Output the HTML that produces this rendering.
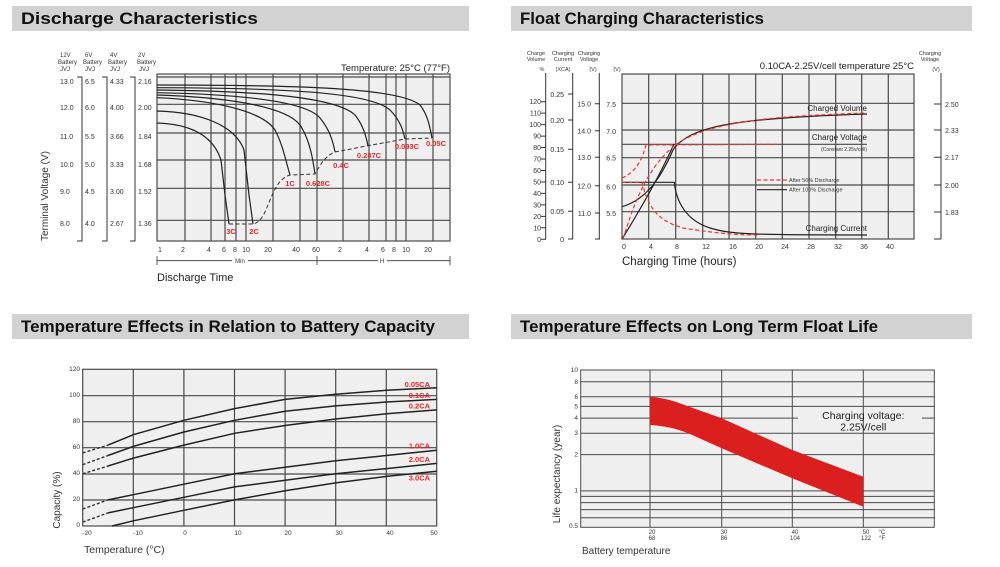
<!DOCTYPE html>
<html><head><meta charset="utf-8"><style>
html,body{margin:0;padding:0;background:#fff;}
svg{display:block;font-family:"Liberation Sans",Arial,sans-serif;}
.t{font-size:7px;fill:#333}
.g{stroke:#4a4a4a;stroke-width:1.2;fill:none}
.c{stroke:#222;stroke-width:1.2;fill:none}
.r{stroke:#e8352f;stroke-width:1.2;fill:none;stroke-dasharray:4 2.5}
.d{stroke:#333;stroke-width:1;fill:none;stroke-dasharray:4 2.5}
.lab{font-size:7.5px;font-weight:bold;fill:#e8252a}
.h{font-size:17px;font-weight:bold;fill:#111}
</style></head><body>
<svg width="1000" height="567" viewBox="0 0 1000 567">
<!-- headers -->
<rect x="12" y="6" width="457" height="25" fill="#d2d2d3"/>
<rect x="511" y="6" width="461" height="25" fill="#d2d2d3"/>
<rect x="12" y="314" width="457" height="25" fill="#d2d2d3"/>
<rect x="511" y="314" width="461" height="25" fill="#d2d2d3"/>
<text class="h" x="21" y="24" textLength="237" lengthAdjust="spacingAndGlyphs">Discharge Characteristics</text>
<text class="h" x="520" y="24" textLength="244" lengthAdjust="spacingAndGlyphs">Float Charging Characteristics</text>
<text class="h" x="21" y="332" textLength="414" lengthAdjust="spacingAndGlyphs">Temperature Effects in Relation to Battery Capacity</text>
<text class="h" x="520" y="332" textLength="358" lengthAdjust="spacingAndGlyphs">Temperature Effects on Long Term Float Life</text>

<!-- ===== Chart 1 ===== -->
<rect x="157" y="74" width="293" height="167" fill="#efefef"/>
<g class="g">
<line x1="157" y1="77" x2="450" y2="77"/><line x1="157" y1="104.3" x2="450" y2="104.3"/><line x1="157" y1="133" x2="450" y2="133"/><line x1="157" y1="160" x2="450" y2="160"/><line x1="157" y1="188.3" x2="450" y2="188.3"/><line x1="157" y1="220.3" x2="450" y2="220.3"/>
<line x1="185" y1="74" x2="185" y2="241"/><line x1="211" y1="74" x2="211" y2="241"/><line x1="225" y1="74" x2="225" y2="241"/><line x1="236" y1="74" x2="236" y2="241"/><line x1="246" y1="74" x2="246" y2="241"/><line x1="273" y1="74" x2="273" y2="241"/><line x1="300" y1="74" x2="300" y2="241"/><line x1="317" y1="74" x2="317" y2="241"/><line x1="343" y1="74" x2="343" y2="241"/><line x1="369" y1="74" x2="369" y2="241"/><line x1="386" y1="74" x2="386" y2="241"/><line x1="396" y1="74" x2="396" y2="241"/><line x1="406" y1="74" x2="406" y2="241"/><line x1="433" y1="74" x2="433" y2="241"/>
<rect x="157" y="74" width="293" height="167"/>
</g>
<g class="c">
<path d="M157,85 C300,85 400,88 420,105 C428,115 430,128 432,138"/>
<path d="M157,87.7 C280,88 370,92 390,110 C400,120 403,130 405,139"/>
<path d="M157,90 C250,91 335,96 355,115 C363,125 366,136 368,145.7"/>
<path d="M157,92.7 C230,94 305,100 320,118 C330,130 333,142 335,151.7"/>
<path d="M157,95 C220,97 285,105 300,125 C310,140 313,160 315,174"/>
<path d="M157,97.7 C210,100 262,110 275,130 C283,145 286,162 290,175"/>
<path d="M157,111 C200,112 235,125 244,150 L249,195 L253,224"/>
<path d="M157,123 C190,124 213,135 221,160 L225,195 L229,224"/>
</g>
<path class="d" d="M229,224 L253,224 C262,222 265,212 270,200 C275,188 280,178 290,175 L315,174 C320,165 325,156 335,152 L368,145.7 L405,139 L432,138"/>
<g class="lab" text-anchor="middle">
<text x="231" y="234">3C</text><text x="254" y="234">2C</text><text x="290" y="186">1C</text><text x="318" y="186">0.628C</text><text x="341" y="168">0.4C</text><text x="369" y="158">0.207C</text><text x="407" y="149">0.093C</text><text x="436" y="146">0.05C</text>
</g>
<g class="t" style="font-size:6px">
<text x="60" y="57">12V</text><text x="58" y="64">Battery</text><text x="60" y="71">JVJ</text>
<text x="85" y="57">6V</text><text x="83" y="64">Battery</text><text x="85" y="71">JVJ</text>
<text x="110" y="57">4V</text><text x="108" y="64">Battery</text><text x="110" y="71">JVJ</text>
<text x="138" y="57">2V</text><text x="137" y="64">Battery</text><text x="139" y="71">JVJ</text>
</g>
<g class="t">
<text x="60" y="84">13.0</text><text x="60" y="110">12.0</text><text x="60" y="139">11.0</text><text x="60" y="167">10.0</text><text x="60" y="194">9.0</text><text x="60" y="226">8.0</text>
<text x="85" y="84">6.5</text><text x="85" y="110">6.0</text><text x="85" y="139">5.5</text><text x="85" y="167">5.0</text><text x="85" y="194">4.5</text><text x="85" y="226">4.0</text>
<text x="110" y="84">4.33</text><text x="110" y="110">4.00</text><text x="110" y="139">3.66</text><text x="110" y="167">3.33</text><text x="110" y="194">3.00</text><text x="110" y="226">2.67</text>
<text x="138" y="84">2.16</text><text x="138" y="110">2.00</text><text x="138" y="139">1.84</text><text x="138" y="167">1.68</text><text x="138" y="194">1.52</text><text x="138" y="226">1.36</text>
</g>
<g stroke="#333" fill="none" stroke-width="1">
<path d="M77,77 H82 V241 H77"/><path d="M102,77 H107 V241 H102"/><path d="M130,77 H135 V241 H130"/>
</g>
<text x="48" y="196" transform="rotate(-90 48 196)" text-anchor="middle" style="font-size:10px;fill:#333">Terminal Voltage (V)</text>
<text x="450" y="71" text-anchor="end" style="font-size:9.5px;fill:#222">Temperature: 25°C (77°F)</text>
<g class="t" text-anchor="middle">
<text x="160" y="252">1</text><text x="183" y="252">2</text><text x="209" y="252">4</text><text x="224" y="252">6</text><text x="235" y="252">8</text><text x="246" y="252">10</text><text x="268" y="252">20</text><text x="296" y="252">40</text><text x="316" y="252">60</text><text x="340" y="252">2</text><text x="367" y="252">4</text><text x="383" y="252">6</text><text x="394" y="252">8</text><text x="406" y="252">10</text><text x="428" y="252">20</text>
</g>
<g stroke="#333" stroke-width="0.8">
<line x1="157" y1="256" x2="157" y2="265"/><line x1="317" y1="256" x2="317" y2="265"/><line x1="450" y1="256" x2="450" y2="265"/>
<line x1="157" y1="260.7" x2="232" y2="260.7"/><line x1="248" y1="260.7" x2="317" y2="260.7"/>
<line x1="317" y1="260.7" x2="378" y2="260.7"/><line x1="387" y1="260.7" x2="450" y2="260.7"/>
</g>
<text class="t" x="240" y="263" text-anchor="middle" style="font-size:6px">Min</text>
<text class="t" x="382" y="263" text-anchor="middle" style="font-size:6px">H</text>
<text x="157" y="281" style="font-size:11px;fill:#222">Discharge Time</text>

<!-- ===== Chart 2 ===== -->
<rect x="622" y="74" width="292" height="165" fill="#efefef"/>
<g class="g">
<line x1="622" y1="103.3" x2="914" y2="103.3"/><line x1="622" y1="130" x2="914" y2="130"/><line x1="622" y1="157.7" x2="914" y2="157.7"/><line x1="622" y1="185" x2="914" y2="185"/><line x1="622" y1="211.7" x2="914" y2="211.7"/>
<line x1="648.7" y1="74" x2="648.7" y2="239"/><line x1="675.7" y1="74" x2="675.7" y2="239"/><line x1="702.7" y1="74" x2="702.7" y2="239"/><line x1="729" y1="74" x2="729" y2="239"/><line x1="755.7" y1="74" x2="755.7" y2="239"/><line x1="782.3" y1="74" x2="782.3" y2="239"/><line x1="809" y1="74" x2="809" y2="239"/><line x1="835.7" y1="74" x2="835.7" y2="239"/><line x1="861.7" y1="74" x2="861.7" y2="239"/><line x1="888.3" y1="74" x2="888.3" y2="239"/>
<rect x="622" y="74" width="292" height="165"/>
</g>
<!-- left axes -->
<g stroke="#333" stroke-width="1" fill="none">
<line x1="545.7" y1="73" x2="545.7" y2="239.3"/><line x1="572.7" y1="73" x2="572.7" y2="239.3"/><line x1="599.3" y1="73" x2="599.3" y2="239.3"/>
<line x1="941" y1="73" x2="941" y2="239.3"/>
<path d="M541,239.3h5M541,227.8h5M541,216.4h5M541,204.9h5M541,193.4h5M541,182h5M541,170.5h5M541,159h5M541,147.5h5M541,136.1h5M541,124.6h5M541,113.1h5M541,101.7h5"/>
<path d="M568,239h5M568,211.3h5M568,182.3h5M568,149.3h5M568,120h5M568,94h5"/>
<path d="M595,239h5M595,213h5M595,185.7h5M595,157.3h5M595,130.7h5M595,103.7h5"/>
<path d="M934,239h7M934,212h7M934,185h7M934,157.3h7M934,130h7M934,104h7"/>
</g>
<g class="t" text-anchor="end">
<text x="541" y="242">0</text><text x="541" y="230.5">10</text><text x="541" y="219">20</text><text x="541" y="207.5">30</text><text x="541" y="196">40</text><text x="541" y="184.5">50</text><text x="541" y="173">60</text><text x="541" y="161.5">70</text><text x="541" y="150">80</text><text x="541" y="138.6">90</text><text x="541" y="127">100</text><text x="541" y="115.6">110</text><text x="541" y="104.2">120</text>
<text x="564" y="242">0</text><text x="564" y="214">0.05</text><text x="564" y="185">0.10</text><text x="564" y="152">0.15</text><text x="564" y="123">0.20</text><text x="564" y="97">0.25</text>
<text x="591" y="216">11.0</text><text x="591" y="188.5">12.0</text><text x="591" y="160">13.0</text><text x="591" y="133.5">14.0</text><text x="591" y="106.5">15.0</text>
<text x="616" y="216">5.5</text><text x="616" y="189.5">6.0</text><text x="616" y="160.5">6.5</text><text x="616" y="134">7.0</text><text x="616" y="107">7.5</text>
</g>
<g class="t">
<text x="945" y="107">2.50</text><text x="945" y="133">2.33</text><text x="945" y="160">2.17</text><text x="945" y="188">2.00</text><text x="945" y="215">1.83</text>
</g>
<g class="t" style="font-size:5.5px" text-anchor="middle">
<text x="536" y="55">Charge</text><text x="536" y="61">Volume</text><text x="542" y="71">%</text>
<text x="563" y="55">Charging</text><text x="563" y="61">Current</text><text x="563" y="71">(XCA)</text>
<text x="589" y="55">Charging</text><text x="589" y="61">Voltage</text><text x="593" y="71">(V)</text>
<text x="617" y="71">(V)</text>
<text x="930" y="55">Charging</text><text x="930" y="61">Voltage</text><text x="936" y="71">(V)</text>
</g>
<text x="914" y="69" text-anchor="end" style="font-size:9.5px;fill:#222">0.10CA-2.25V/cell  temperature 25°C</text>
<g class="g" style="stroke-width:1.1">
<line x1="622" y1="144.3" x2="867" y2="144.3"/>
</g>
<g class="c">
<path d="M622,239 C640,210 660,175 674,144"/>
<path d="M622,206.7 C645,200 660,180 673,150 C690,125 740,118 867,114"/>
<path d="M622,182.3 L674.3,182.3 C676,200 685,220 710,228 C730,234 745,235 867,235"/>
</g>
<g class="r">
<path d="M622,178 C636,172 642,160 646,145 L777,144.3"/>
<path d="M622,182.3 L642,182.3 C648,205 655,220 683,228 C720,234 740,235 760,235"/>
<path d="M623,239 C635,200 650,160 683,140 C720,120 780,116 867,113"/>
<line x1="757" y1="180" x2="787" y2="180"/>
</g>
<line x1="757" y1="189.7" x2="787" y2="189.7" stroke="#222" stroke-width="1.1"/>
<g class="t" style="font-size:5.5px">
<text x="789" y="182">After  50% Discharge</text><text x="789" y="191.5">After 100% Discharge</text>
</g>
<g text-anchor="end" style="font-size:8px;fill:#222">
<text x="867" y="111">Charged Volume</text><text x="867" y="140">Charge Voltage</text><text x="867" y="231">Charging Current</text>
</g>
<text x="867" y="151" text-anchor="end" class="t" style="font-size:5px">(Constant 2.25v/cell)</text>
<g class="t" text-anchor="middle">
<text x="624" y="249">0</text><text x="651" y="249">4</text><text x="677" y="249">8</text><text x="706" y="249">12</text><text x="733" y="249">16</text><text x="759" y="249">20</text><text x="785" y="249">24</text><text x="811" y="249">28</text><text x="838" y="249">32</text><text x="864" y="249">36</text><text x="890" y="249">40</text>
</g>
<text x="622" y="265" style="font-size:11.5px;fill:#222">Charging Time (hours)</text>

<!-- ===== Chart 3 ===== -->
<rect x="82.7" y="369.3" width="354" height="156.7" fill="#efefef"/>
<g class="g">
<line x1="82.7" y1="395.7" x2="436.7" y2="395.7"/><line x1="82.7" y1="421.7" x2="436.7" y2="421.7"/><line x1="82.7" y1="447.7" x2="436.7" y2="447.7"/><line x1="82.7" y1="474" x2="436.7" y2="474"/><line x1="82.7" y1="500" x2="436.7" y2="500"/>
<line x1="133.3" y1="369.3" x2="133.3" y2="526"/><line x1="183.9" y1="369.3" x2="183.9" y2="526"/><line x1="234.5" y1="369.3" x2="234.5" y2="526"/><line x1="285.1" y1="369.3" x2="285.1" y2="526"/><line x1="335.7" y1="369.3" x2="335.7" y2="526"/><line x1="386.3" y1="369.3" x2="386.3" y2="526"/>
<rect x="82.7" y="369.3" width="354" height="156.7"/>
</g>
<g class="c" style="stroke-width:1.5">
<polyline points="108,445.1 133.3,434.7 183.9,420.3 234.5,408.6 285.1,399.4 335.7,394.2 386.3,390.3 436.9,387.7"/>
<polyline points="108,455.5 133.3,446.4 183.9,432 234.5,420.3 285.1,411.2 335.7,405.9 386.3,402 436.9,399.4"/>
<polyline points="108,466 133.3,458.1 183.9,445.1 234.5,433.3 285.1,425.5 335.7,419 386.3,413.8 436.9,409.9"/>
<polyline points="108,499.9 133.3,494.7 183.9,484.2 234.5,473.8 285.1,467.3 335.7,460.8 386.3,455.5 436.9,450.3"/>
<polyline points="108,512.9 133.3,507.7 183.9,497.3 234.5,486.9 285.1,480.3 335.7,473.8 386.3,468.6 436.9,463.4"/>
<polyline points="112,526 133.3,520.8 183.9,510.3 234.5,499.9 285.1,490.8 335.7,482.9 386.3,476.4 436.9,471.2"/>
</g>
<g class="d" style="stroke-width:1.4;stroke-dasharray:3 2">
<line x1="82.7" y1="452.9" x2="108" y2="445.1"/><line x1="82.7" y1="464.7" x2="108" y2="455.5"/><line x1="82.7" y1="473.8" x2="108" y2="466"/><line x1="82.7" y1="509" x2="108" y2="499.9"/><line x1="82.7" y1="522.1" x2="108" y2="512.9"/>
</g>
<g class="lab" text-anchor="end">
<text x="430" y="387">0.05CA</text><text x="430" y="398">0.1CA</text><text x="430" y="408.5">0.2CA</text><text x="430" y="448.5">1.0CA</text><text x="430" y="462">2.0CA</text><text x="430" y="480.5">3.0CA</text>
</g>
<g class="t" text-anchor="end" style="font-size:6.5px">
<text x="80" y="371">120</text><text x="80" y="397">100</text><text x="80" y="423">80</text><text x="80" y="449">60</text><text x="80" y="475">40</text><text x="80" y="501">20</text><text x="80" y="527">0</text>
</g>
<g class="t" text-anchor="middle" style="font-size:6.5px">
<text x="87" y="535">-20</text><text x="138" y="535">-10</text><text x="185" y="535">0</text><text x="238" y="535">10</text><text x="288" y="535">20</text><text x="339" y="535">30</text><text x="390" y="535">40</text><text x="434" y="535">50</text>
</g>
<text x="60" y="500" transform="rotate(-90 60 500)" text-anchor="middle" style="font-size:10px;fill:#333">Capacity (%)</text>
<text x="84" y="553" style="font-size:10.5px;fill:#333">Temperature (°C)</text>

<!-- ===== Chart 4 ===== -->
<rect x="580.7" y="370" width="353.6" height="157.3" fill="#efefef"/>
<g class="g" style="stroke-width:1">
<line x1="580.7" y1="381.7" x2="934.3" y2="381.7"/><line x1="580.7" y1="396.8" x2="934.3" y2="396.8"/><line x1="580.7" y1="406.4" x2="934.3" y2="406.4"/>
<line x1="580.7" y1="418.1" x2="798" y2="418.1"/><line x1="922" y1="418.1" x2="934.3" y2="418.1"/>
<line x1="580.7" y1="433.2" x2="934.3" y2="433.2"/><line x1="580.7" y1="454.6" x2="934.3" y2="454.6"/><line x1="580.7" y1="490.9" x2="934.3" y2="490.9"/><line x1="580.7" y1="496.4" x2="934.3" y2="496.4"/><line x1="580.7" y1="502.6" x2="934.3" y2="502.6"/><line x1="580.7" y1="509.6" x2="934.3" y2="509.6"/><line x1="580.7" y1="517.7" x2="934.3" y2="517.7"/>
<line x1="650" y1="370" x2="650" y2="527.3"/><line x1="721.7" y1="370" x2="721.7" y2="527.3"/><line x1="792.3" y1="370" x2="792.3" y2="527.3"/><line x1="863.3" y1="370" x2="863.3" y2="527.3"/>
<rect x="580.7" y="370" width="353.6" height="157.3"/>
</g>
<path d="M650,396.7 C665,398 675,401 690,407 L721.7,418.3 L792.3,450 L863.3,476.7 L863.3,506.7 L792.3,478.3 L721.7,448.3 L690,434 C675,428 665,426 650,425 Z" fill="#db1f1f"/>
<text x="863.3" y="419" text-anchor="middle" style="font-size:10.5px;fill:#222">Charging voltage:</text>
<text x="863.3" y="430.5" text-anchor="middle" style="font-size:10.5px;fill:#222">2.25V/cell</text>
<g class="t" text-anchor="end" style="font-size:6.5px">
<text x="578" y="372">10</text><text x="578" y="384">8</text><text x="578" y="399">6</text><text x="578" y="408.5">5</text><text x="578" y="420">4</text><text x="578" y="435">3</text><text x="578" y="456.5">2</text><text x="578" y="492.5">1</text><text x="578" y="528">0.5</text>
</g>
<g class="t" text-anchor="middle" style="font-size:6px">
<text x="652" y="534">20</text><text x="652" y="540">68</text><text x="724" y="534">30</text><text x="724" y="540">86</text><text x="795" y="534">40</text><text x="795" y="540">104</text><text x="866" y="534">50</text><text x="866" y="540">122</text><text x="882" y="534">°C</text><text x="882" y="540">°F</text>
</g>
<text x="560" y="474" transform="rotate(-90 560 474)" text-anchor="middle" style="font-size:10px;fill:#333">Life expectancy (year)</text>
<text x="582" y="554" style="font-size:10px;fill:#333">Battery temperature</text>
</svg>
</body></html>
